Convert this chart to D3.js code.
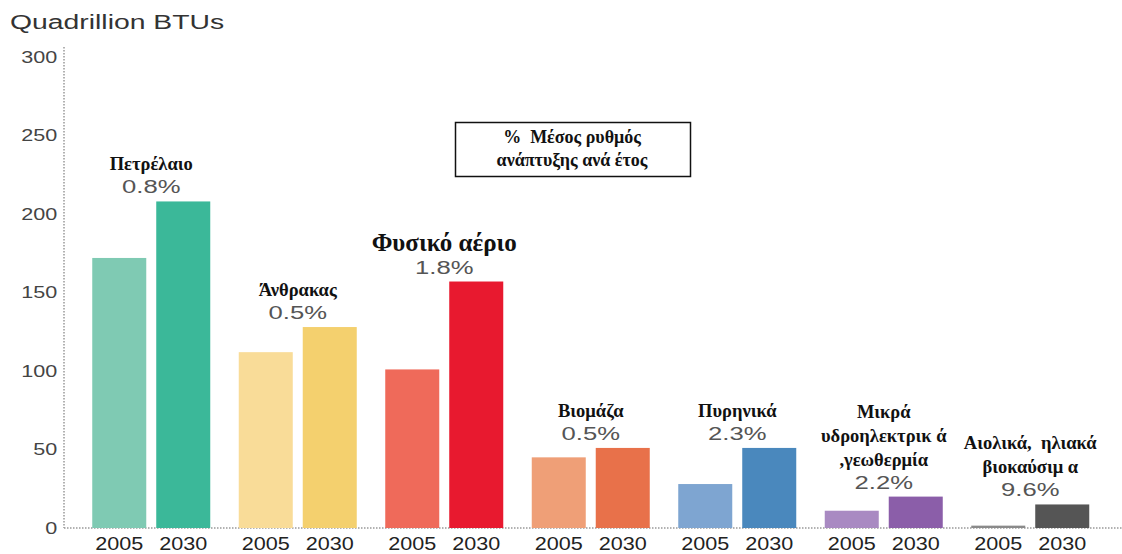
<!DOCTYPE html>
<html>
<head>
<meta charset="utf-8">
<script src="https://cdn.jsdelivr.net/npm/d3@7"></script>
<style>
  body { margin: 0; background: #fff; }
  text { white-space: pre; }
</style>
</head>
<body>
<script>
const categories = ["oil", "coal", "gas", "biomass", "nuclear", "hydro", "renew"];
const categoryNames = [
  ["Πετρέλαιο"],
  ["Άνθρακας"],
  ["Φυσικό αέριο"],
  ["Βιομάζα"],
  ["Πυρηνικά"],
  ["Μικρά", "υδροηλεκτρικ ά", ",γεωθερμία"],
  ["Αιολικά,  ηλιακά", "βιοκαύσιμ α"]
];
const years = ["2005", "2030"];
const values2005 = [172, 112, 101, 45, 28, 11, 1.5];
const values2030 = [208, 128, 157, 51, 51, 20, 15];
const growth = ["0.8%", "0.5%", "1.8%", "0.5%", "2.3%", "2.2%", "9.6%"];
const yTicks = [0, 50, 100, 150, 200, 250, 300];
const colors2005 = ["#7fcab3", "#f9dc98", "#ef6a5a", "#ef9f77", "#7ea5d1", "#a98ac2", "#8a8a8a"];
const colors2030 = ["#3bb899", "#f4d06e", "#e8192f", "#e8714a", "#4a88bd", "#8b5ea9", "#555555"];

const width = 1122;
const height = 554;
const sans = "Liberation Sans, Arial, sans-serif";
const serif = "Liberation Serif, Times New Roman, serif";
const stretch = 1.35; // the original sans text looks wide

const svg = d3.select("body").append("svg")
  .attr("width", width)
  .attr("height", height);

const y = d3.scaleLinear().domain([0, 300]).range([528, 57]);
const x0 = d3.scaleBand().domain(categories).range([78, 1103.5]);
const x1 = d3.scaleBand().domain(years).range([-59, 59]).paddingInner(0.156);

// title
svg.append("text")
  .attr("transform", `translate(10,29) scale(${stretch},1)`)
  .attr("font-family", sans)
  .attr("font-size", 21)
  .attr("fill", "#333")
  .text("Quadrillion BTUs");

// y axis labels
const yAxis = svg.append("g")
  .attr("transform", "translate(64,0)")
  .call(d3.axisLeft(y).tickValues(yTicks).tickSize(0).tickPadding(5));
yAxis.select(".domain").remove();
yAxis.selectAll("text")
  .attr("font-family", sans)
  .attr("font-size", 16)
  .attr("fill", "#444")
  .attr("transform", `scale(${stretch},1)`);

// dotted axis lines
svg.append("line")
  .attr("x1", 64).attr("x2", 64)
  .attr("y1", 47).attr("y2", y(0))
  .attr("stroke", "#999")
  .attr("stroke-width", 1.5)
  .attr("stroke-dasharray", "1.5,1.5");
svg.append("line")
  .attr("x1", 64).attr("x2", width)
  .attr("y1", y(0)).attr("y2", y(0))
  .attr("stroke", "#999")
  .attr("stroke-width", 1.5)
  .attr("stroke-dasharray", "1.5,1.5");

const rows = categories.map((c, i) => ({
  key: c,
  names: categoryNames[i],
  growth: growth[i],
  bars: [
    { year: "2005", value: values2005[i], color: colors2005[i] },
    { year: "2030", value: values2030[i], color: colors2030[i] }
  ]
}));

const groups = svg.selectAll("g.group")
  .data(rows)
  .enter()
  .append("g")
  .attr("class", "group")
  .attr("transform", (d) => `translate(${x0(d.key) + x0.bandwidth() / 2},0)`);

groups.selectAll("rect")
  .data((d) => d.bars)
  .enter()
  .append("rect")
  .attr("x", (d) => x1(d.year))
  .attr("width", x1.bandwidth())
  .attr("y", (d) => y(d.value))
  .attr("height", (d) => y(0) - y(d.value))
  .attr("fill", (d) => d.color);

groups.selectAll("text.year")
  .data((d) => d.bars)
  .enter()
  .append("text")
  .attr("class", "year")
  .attr("transform", (d) => `translate(${x1(d.year) + x1.bandwidth() / 2},550) scale(1.2,1)`)
  .attr("text-anchor", "middle")
  .attr("font-family", sans)
  .attr("font-size", 18)
  .attr("fill", "#222")
  .text((d) => d.year);

// growth percentage
const pctY = (d) => y(d3.max(d.bars, (b) => b.value)) - 8;
groups.append("text")
  .attr("transform", (d) => `translate(0,${pctY(d)}) scale(${stretch},1)`)
  .attr("text-anchor", "middle")
  .attr("font-family", sans)
  .attr("font-size", 19)
  .attr("fill", "#555")
  .text((d) => d.growth);

// category names
groups.each(function (d) {
  const top = pctY(d);
  const n = d.names.length;
  const big = d.key === "gas";
  d3.select(this).selectAll("text.name")
    .data(d.names)
    .enter()
    .append("text")
    .attr("class", "name")
    .attr("x", 0)
    .attr("y", (_, i) => top - 23 - (n - 1 - i) * 24)
    .attr("text-anchor", "middle")
    .attr("font-family", serif)
    .attr("font-weight", "bold")
    .attr("font-size", big ? 25 : 18.5)
    .attr("fill", "#111")
    .text((t) => t);
});

// note box
svg.append("rect")
  .attr("x", 455.5).attr("y", 122.5)
  .attr("width", 235).attr("height", 54)
  .attr("fill", "none")
  .attr("stroke", "#111")
  .attr("stroke-width", 1.5);
const note = svg.append("text")
  .attr("text-anchor", "middle")
  .attr("font-family", serif)
  .attr("font-weight", "bold")
  .attr("font-size", 18)
  .attr("fill", "#111");
note.append("tspan").attr("x", 572).attr("y", 143).text("%  Μέσος ρυθμός");
note.append("tspan").attr("x", 572).attr("y", 166).text("ανάπτυξης ανά έτος");
</script>
</body>
</html>
